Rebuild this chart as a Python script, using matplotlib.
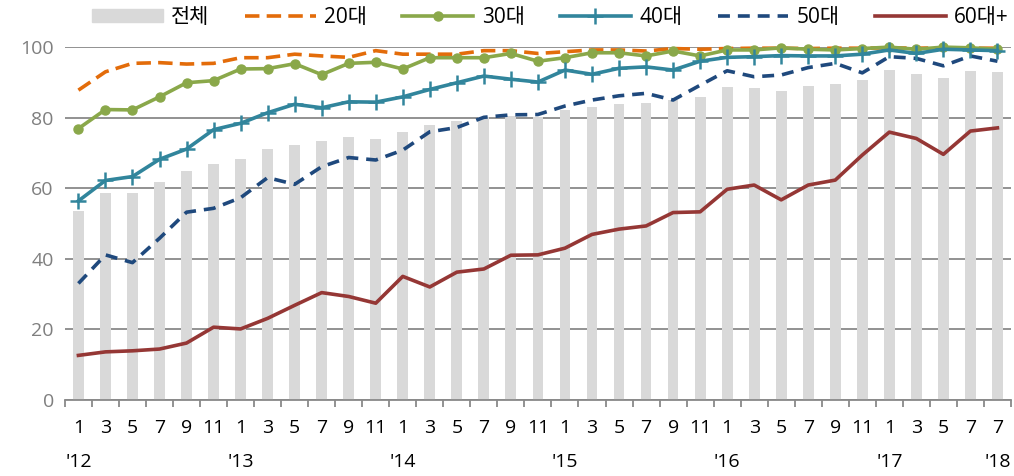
import numpy as np
import matplotlib.pyplot as plt
from matplotlib.lines import Line2D
from matplotlib.patches import Patch

plt.rcParams['font.family'] = ['Open Sans', 'Noto Sans CJK KR', 'DejaVu Sans']

# -- data (bimonthly, Jan 2012 .. Jul 2018)
months = ['1', '3', '5', '7', '9', '11'] * 5 + ['1', '3', '5', '7', '7']
years = {0: "'12", 6: "'13", 12: "'14", 18: "'15", 24: "'16", 30: "'17", 34: "'18"}

total = [53.4, 58.7, 58.7, 61.9, 65.0, 66.9, 68.3, 71.0, 72.3, 73.4,
         74.5, 74.0, 76.0, 77.9, 79.0, 80.3, 80.6, 80.1, 82.2, 83.1,
         84.0, 84.3, 85.0, 86.0, 88.7, 88.3, 87.7, 89.0, 89.6, 90.8,
         93.5, 92.4, 91.3, 93.3, 93.0]
age20 = [87.8, 93.0, 95.4, 95.6, 95.2, 95.4, 97.0, 97.0, 98.0, 97.5,
         97.1, 99.0, 98.0, 98.0, 98.0, 99.0, 99.0, 98.2, 98.7, 99.2,
         99.2, 98.9, 99.6, 99.4, 99.6, 99.7, 99.7, 99.6, 99.7, 99.7,
         99.8, 99.7, 99.8, 99.7, 99.7]
age30 = [76.9, 82.3, 82.2, 85.9, 89.9, 90.5, 93.8, 93.9, 95.3, 92.2,
         95.4, 95.7, 93.8, 97.0, 97.0, 97.0, 98.2, 96.0, 97.0, 98.4,
         98.4, 97.5, 98.9, 97.5, 99.2, 99.2, 99.8, 99.4, 99.2, 99.6,
         100.0, 99.4, 100.0, 99.8, 99.4]
age40 = [56.4, 62.2, 63.3, 68.2, 71.1, 76.6, 78.4, 81.4, 83.8, 82.8,
         84.5, 84.4, 85.9, 88.0, 89.9, 91.8, 90.9, 90.1, 93.5, 92.3,
         94.0, 94.4, 93.5, 96.0, 97.1, 97.3, 97.6, 97.5, 97.5, 98.0,
         99.2, 98.2, 99.4, 99.2, 99.0]
age50 = [33.0, 41.1, 38.9, 45.8, 53.2, 54.3, 57.3, 63.0, 61.1, 66.1,
         68.7, 68.0, 70.8, 76.0, 77.2, 80.1, 80.8, 80.9, 83.3, 85.0,
         86.2, 86.9, 85.0, 89.2, 93.3, 91.6, 92.1, 94.2, 95.4, 92.7,
         97.3, 96.8, 94.7, 97.5, 96.0]
age60 = [12.6, 13.6, 13.9, 14.4, 16.1, 20.6, 20.1, 23.1, 26.8, 30.4,
         29.3, 27.4, 35.0, 32.0, 36.2, 37.1, 41.0, 41.1, 43.0, 46.9,
         48.4, 49.3, 53.1, 53.3, 59.7, 60.9, 56.7, 60.9, 62.3, 69.4,
         75.9, 74.1, 69.6, 76.2, 77.1]

x = np.arange(len(total))

# -- styles
lw = 2.6
st20 = dict(color='#e36c0a', lw=lw, ls=(0, (4, 2)))
st30 = dict(color='#8aa84a', lw=lw, marker='o', ms=6.5)
st40 = dict(color='#31859c', lw=lw, marker='+', ms=12, mew=1.8)
st50 = dict(color='#1f497d', lw=lw, ls=(0, (3.3, 2.2)))
st60 = dict(color='#953735', lw=lw)

# -- plot
fig = plt.figure(figsize=(10.14, 4.76), dpi=100)
ax = fig.add_axes([0.064, 0.160, 0.933, 0.741])

ax.bar(x, total, width=0.4, color='#d9d9d9', zorder=2)
ax.plot(x, age20, zorder=3, clip_on=False, **st20)
ax.plot(x, age30, zorder=4, clip_on=False, **st30)
ax.plot(x, age40, zorder=5, clip_on=False, **st40)
ax.plot(x, age50, zorder=3, clip_on=False, **st50)
ax.plot(x, age60, zorder=3, clip_on=False, **st60)

ax.set_ylim(0, 100)
ax.set_xlim(-0.5, len(x) - 0.5)
ax.set_yticks([0, 20, 40, 60, 80, 100])
ax.yaxis.grid(True, color='#898989', lw=1.3, zorder=1)
ax.tick_params(axis='y', length=0, labelsize=14, labelcolor='#7f7f7f', pad=8)

ax.set_xticks(x)
ax.set_xticklabels(months)
ax.tick_params(axis='x', length=0, labelsize=14, pad=14)
ax.set_xticks(np.arange(-0.5, len(x)), minor=True)
ax.tick_params(axis='x', which='minor', length=5, width=1.3, color='#898989')
for i, lab in years.items():
    ax.text(i, -0.175, lab, transform=ax.get_xaxis_transform(), ha='center', va='center', fontsize=14)

for s in ['top', 'right', 'left']:
    ax.spines[s].set_visible(False)
ax.spines['bottom'].set_color('#898989')
ax.spines['bottom'].set_linewidth(1.3)

handles = [Patch(color='#d9d9d9'), Line2D([], [], **st20), Line2D([], [], **st30),
           Line2D([], [], **st40), Line2D([], [], **st50), Line2D([], [], **st60)]
labels = ['전체', '20대', '30대', '40대', '50대', '60대+']
fig.legend(handles, labels, loc='center', bbox_to_anchor=(0.543, 0.963), ncol=6, frameon=False,
           fontsize=15, handlelength=3.4, handleheight=0.6, handletextpad=0.4, columnspacing=1.7)

fig.savefig('out.png', dpi=100)
